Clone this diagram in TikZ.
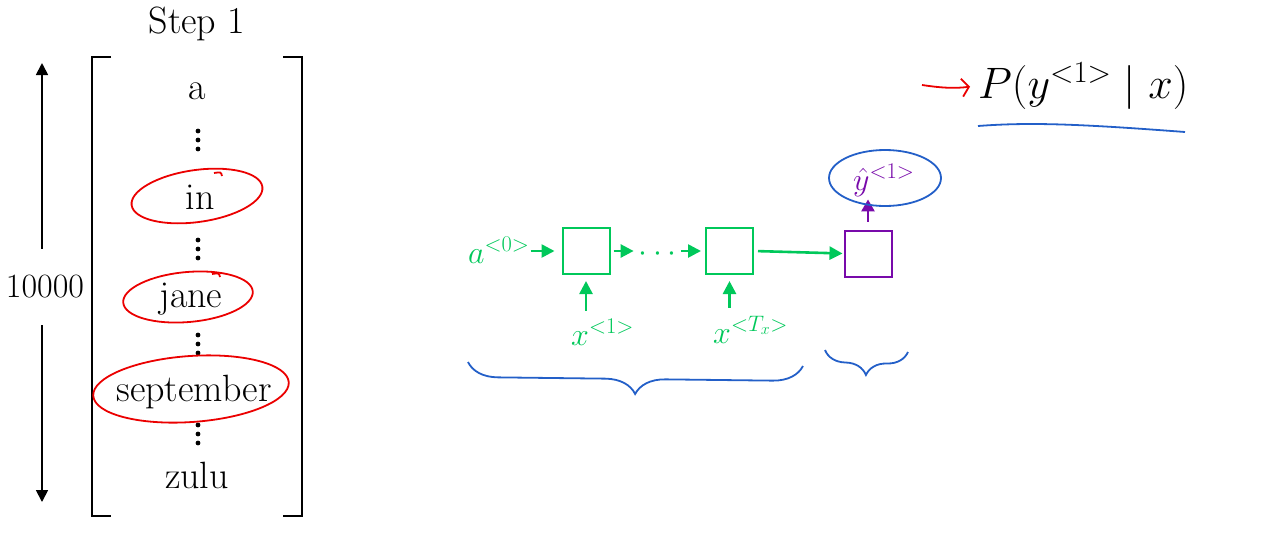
\RequirePackage{fix-cm}
\documentclass[tikz,border=0pt]{standalone}
\usetikzlibrary{arrows.meta,decorations.pathreplacing}
\definecolor{rnngreen}{RGB}{0,200,90}
\definecolor{rnnpurple}{RGB}{120,10,170}
\definecolor{penblue}{RGB}{35,95,200}
\definecolor{penred}{RGB}{235,0,0}
\newcommand{\fsz}[1]{\fontsize{#1}{#1}\selectfont}
\begin{document}
\begin{tikzpicture}[x=1pt,y=-1pt,
		word/.style={font=\fsz{38},anchor=base,inner sep=0pt},
		lab/.style={font=\fsz{32},text=rnngreen,inner sep=1pt,anchor=base west},
		cell/.style={draw=rnngreen,line width=2,minimum width=47,minimum height=46,inner sep=0pt},
		garrow/.style={rnngreen,line width=2.6,-{Triangle[length=13pt,width=13pt]}},
		parrow/.style={rnnpurple,line width=2.6,-{Triangle[length=12pt,width=13pt]}},
		redpen/.style={penred,line width=1.8},
		bluepen/.style={penblue,line width=1.8}]
		\useasboundingbox (0,0) rectangle (1272,542);
		%\draw[red] (0,0) rectangle (1272,542);
		\coordinate (top) at (42,63);
		\coordinate (bot) at (42,502);
		\coordinate (redtail) at (922,85);
		% vocabulary column
		\node[word] (step) at (197,33) {Step 1};
		\node[word] (w-a) at (197,99) {a};
		\node[word] (w-in) at (200,209) {in};
		\node[word] (w-jane) at (191,307) {jane};
		\node[word] (w-sep) at (194,401) {september};
		\node[word] (w-zulu) at (197,488) {zulu};
		\foreach \ytop in {131,240,335,425}
			\foreach \k in {0,1,2}
				\fill (198,\ytop+9*\k) circle (2.4);
		\draw [line width=1.5] (111,57) -- (92,57) -- (92,516) -- (111,516);
		\draw [line width=1.5] (283,57) -- (302,57) -- (302,516) -- (283,516);
		\node[font=\fsz{34},minimum height=76,inner sep=0pt] (num) at (45,287) {10000};
		\draw [line width=1.8,-{Triangle[length=12pt,width=12pt]}] (num.north -| top) -- (top);
		\draw [line width=1.8,-{Triangle[length=12pt,width=12pt]}] (num.south -| bot) -- (bot);
		\draw [redpen,rotate around={8:(197,196)}] (197,196) ellipse (66 and 26);
		\draw [redpen] (214,173) .. controls (221,172) .. (222,176);
		\draw [redpen,rotate around={5:(188,297)}] (188,297) ellipse (65 and 25);
		\draw [redpen] (212,274) .. controls (219,273) .. (220,277);
		\draw [redpen,rotate around={4:(191,389)}] (191,389) ellipse (98 and 33);
		% rnn
		\node[cell] (c1) at (586,251) {};
		\node[cell] (c2) at (729.5,251) {};
		\node[cell,draw=rnnpurple] (out) at (868,253.5) {};
		\node[lab] (a0) at (467,263) {$a^{<0>}$};
		\node[font=\fsz{32},text=rnngreen,inner sep=0pt,anchor=base] (dots) at (657.5,261) {$\cdots$};
		\node[lab] (x1) at (570,345) {$x^{<1>}$};
		\node[lab] (xT) at (712,343) {$x^{<T_x>}$};
		\node[lab,text=rnnpurple] (yhat) at (852,190) {$\hat{y}^{<1>}$};
		\draw [garrow,shorten >=7pt] (a0.east |- c1.west) -- (c1.west);
		\draw [garrow,shorten <=3pt,shorten >=5pt] (c1.east) -- (dots.west |- c1.east);
		\draw [garrow,shorten <=5pt,shorten >=4pt] (dots.east |- c2.west) -- (c2.west);
		\draw [garrow,shorten <=4pt,shorten >=1pt] (c2.east) -- (out.west);
		\draw [garrow,shorten <=7pt,shorten >=6pt] (c1.south |- x1.north) -- (c1.south);
		\draw [garrow,shorten <=7pt,shorten >=6pt] (c2.south |- xT.north) -- (c2.south);
		\draw [parrow,shorten <=8pt,shorten >=2pt] (out.north) -- (yhat.south -| out.north);
		\draw [bluepen] (885,178) ellipse (56 and 28);
		\draw [bluepen,decorate,decoration={brace,amplitude=30pt,mirror}] (468,362) -- (803,366);
		\draw [bluepen,decorate,decoration={brace,amplitude=24pt,mirror}] (825,350) -- (908,352);
		% output probability
		\node[font=\fsz{44},anchor=base west,inner sep=0pt] (prob) at (978,98) {$P(y^{<1>} \mid x)$};
		\draw [redpen,shorten >=8pt,-{Straight Barb[length=7pt,width=18pt]}] (redtail) to[bend right=8] (prob.west);
		\draw [bluepen] (978,126) .. controls (1030,122) and (1080,124) .. (1185,132);
	\end{tikzpicture}
\end{document}
